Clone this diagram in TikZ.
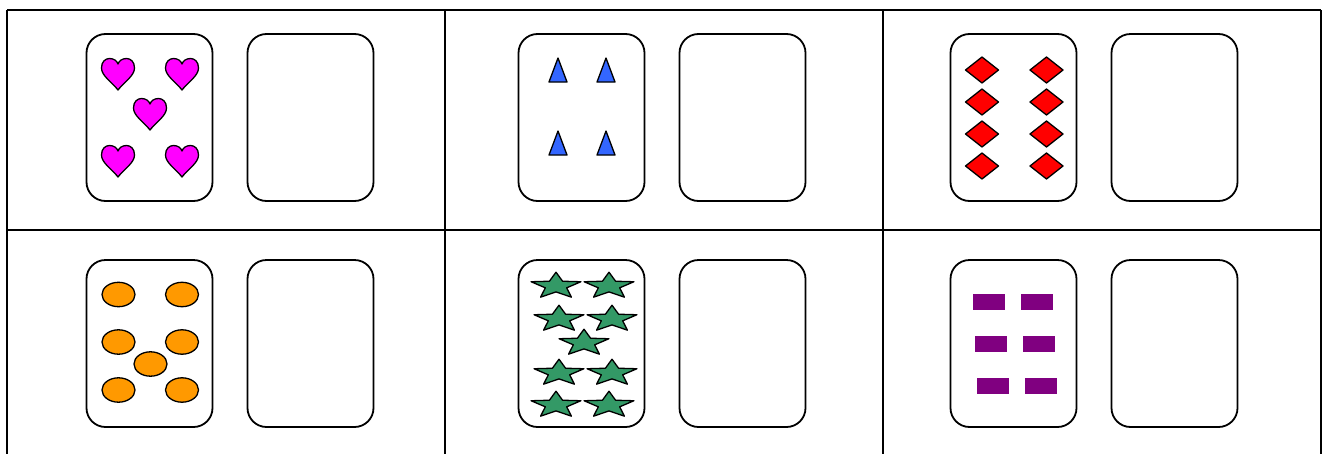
\documentclass[tikz,border=0pt]{standalone}
\usetikzlibrary{shapes.geometric}
\definecolor{heartc}{RGB}{255,0,255}
\definecolor{tric}{RGB}{51,102,255}
\definecolor{diamc}{RGB}{255,0,0}
\definecolor{ovalc}{RGB}{255,153,0}
\definecolor{starc}{RGB}{51,153,102}
\definecolor{rectc}{RGB}{128,0,128}
\tikzset{
  grid/.style={line width=2pt, black},
  card/.style={draw=black, line width=1.8pt, rounded corners=19pt, minimum width=126pt, minimum height=167pt, inner sep=0pt, fill=white},
  symb/.style={draw=black, line width=1.3pt, line join=round},
  heartshape/.pic={\path[symb, fill=heartc] (0,16) .. controls (-6,8) and (-16.5,2) .. (-16.5,-6) .. controls (-16.5,-12.5) and (-12.5,-15.5) .. (-8.5,-15.5) .. controls (-4,-15.5) and (-1,-13) .. (0,-10) .. controls (1,-13) and (4,-15.5) .. (8.5,-15.5) .. controls (12.5,-15.5) and (16.5,-12.5) .. (16.5,-6) .. controls (16.5,2) and (6,8) .. (0,16) -- cycle;},
  trishape/.pic={\path[symb, fill=tric] (-9,0) -- (9,0) -- (0,-24) -- cycle;},
  diamshape/.pic={\path[symb, fill=diamc] (-16.5,0) -- (0,-13) -- (16.5,0) -- (0,13) -- cycle;},
  ovalshape/.pic={\path[symb, fill=ovalc] (0,0) ellipse [x radius=16.5, y radius=12.2];},
  starshape/.pic={\begin{scope}[xscale=1.9]\path[symb, fill=starc] (-90:13.8) -- (-54:5.9) -- (-18:13.8) -- (18:5.9) -- (54:13.8) -- (90:5.9) -- (126:13.8) -- (162:5.9) -- (198:13.8) -- (234:5.9) -- cycle;\end{scope}},
  rectshape/.pic={\fill[rectc] (-16,-8) rectangle (16,8);}
}
\begin{document}
\begin{tikzpicture}[x=1pt, y=-1pt]
\useasboundingbox (0,0) rectangle (1326,453);
\fill[white] (0,0) rectangle (1326,453);
% table
\coordinate (tl) at (7,10); \coordinate (tr) at (1321,10);
\coordinate (ml) at (7,230); \coordinate (mr) at (1321,230);
\coordinate (b0) at (7,455); \coordinate (b1) at (445,455); \coordinate (b2) at (883,455); \coordinate (b3) at (1321,455);
\coordinate (t1) at (445,10); \coordinate (t2) at (883,10);
\draw[grid] (tl) -- (tr);
\draw[grid] (ml) -- (mr);
\draw[grid] (tl) -- (b0);
\draw[grid] (t1) -- (b1);
\draw[grid] (t2) -- (b2);
\draw[grid] (tr) -- (b3);
% cards row 1
\node[card] (c1) at (149.5,117.5) {};
\node[card] (e1) at (310.5,117.5) {};
\node[card] (c2) at (581.5,117.5) {};
\node[card] (e2) at (742.5,117.5) {};
\node[card] (c3) at (1013.5,117.5) {};
\node[card] (e3) at (1174.5,117.5) {};
% cards row 2
\node[card] (c4) at (149.5,343.5) {};
\node[card] (e4) at (310.5,343.5) {};
\node[card] (c5) at (581.5,343.5) {};
\node[card] (e5) at (742.5,343.5) {};
\node[card] (c6) at (1013.5,343.5) {};
\node[card] (e6) at (1174.5,343.5) {};
% hearts
\pic at (118,74) {heartshape};
\pic at (182,74) {heartshape};
\pic at (150,114) {heartshape};
\pic at (118,161) {heartshape};
\pic at (182,161) {heartshape};
% triangles
\pic at (558,82) {trishape};
\pic at (606,82) {trishape};
\pic at (558,155) {trishape};
\pic at (606,155) {trishape};
% diamonds
\foreach \yy in {70,102,134,166} {
  \pic at (982,\yy) {diamshape};
  \pic at (1046.5,\yy) {diamshape};
}
% ovals
\pic at (118.5,294.5) {ovalshape};
\pic at (182,294.5) {ovalshape};
\pic at (118.5,342) {ovalshape};
\pic at (182,342) {ovalshape};
\pic at (150.5,364) {ovalshape};
\pic at (118.5,390) {ovalshape};
\pic at (182,390) {ovalshape};
% stars
\pic at (556,286) {starshape};
\pic at (609,286) {starshape};
\pic at (559,319) {starshape};
\pic at (612,319) {starshape};
\pic at (584,343) {starshape};
\pic at (559,373) {starshape};
\pic at (612,373) {starshape};
\pic at (556,405) {starshape};
\pic at (609,405) {starshape};
% purple rectangles
\pic at (989,302) {rectshape};
\pic at (1037,302) {rectshape};
\pic at (991,344) {rectshape};
\pic at (1039,344) {rectshape};
\pic at (993,386) {rectshape};
\pic at (1041,386) {rectshape};
\end{tikzpicture}
\end{document}
